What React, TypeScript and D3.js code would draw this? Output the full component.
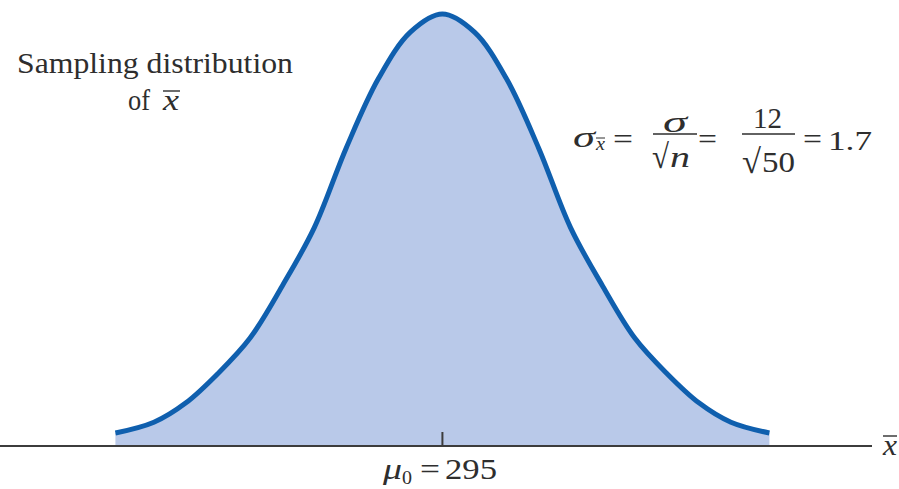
import React from 'react';
import * as d3 from 'd3';

// sample mean values along the curve, and relative density
const xbarValues = [289.9, 290.5, 291, 291.5, 292, 292.5, 293, 293.5, 294, 294.5, 295,
  295.5, 296, 296.5, 297, 297.5, 298, 298.5, 299, 299.5, 300.1];
const densities = [0.03, 0.055, 0.1, 0.168, 0.25, 0.37, 0.505, 0.69, 0.85, 0.958, 1,
  0.958, 0.85, 0.69, 0.505, 0.37, 0.25, 0.168, 0.1, 0.055, 0.03];

const muLabel = 295;
const sigma = 12;
const n = 50;
const stdErr = 1.7;

const W = 899;
const H = 489;
const serif = 'Liberation Serif, Times New Roman, Times, serif';
const ink = '#2e2e2e';

// text stretched to the width it has in the picture
function T({ x, y, w, size = 30, italic = false, children }: any) {
  return (
    <text x={x} y={y} fontSize={size} fontStyle={italic ? 'italic' : 'normal'}
      textLength={w} lengthAdjust="spacingAndGlyphs">{children}</text>
  );
}

export default function App() {
  const xScale = d3.scaleLinear().domain([288.1, 301.7]).range([0, 872]);
  const yScale = d3.scaleLinear().domain([0, 1]).range([446, 14]);

  const pts = xbarValues.map((v, i) => [v, densities[i]] as [number, number]);

  const area = d3.area<[number, number]>()
    .x(d => xScale(d[0]))
    .y0(yScale(0))
    .y1(d => yScale(d[1]))
    .curve(d3.curveCatmullRom.alpha(0.5));

  const line = d3.line<[number, number]>()
    .x(d => xScale(d[0]))
    .y(d => yScale(d[1]))
    .curve(d3.curveCatmullRom.alpha(0.5));

  const cx = xScale(muLabel);

  return (
    <svg width={W} height={H} style={{ position: 'absolute', left: 0, top: 0, background: '#fff' }}>
      <path d={area(pts) || ''} fill="#b9c9e9" />
      <path d={line(pts) || ''} fill="none" stroke="#0f5fae" strokeWidth={5} />

      {/* axis */}
      <line x1={xScale.range()[0]} x2={xScale.range()[1]} y1={yScale(0)} y2={yScale(0)} stroke="#3c3c3c" strokeWidth={2} />
      <line x1={cx} x2={cx} y1={yScale(0)} y2={yScale(0) - 14} stroke="#3c3c3c" strokeWidth={2} />

      <g fontFamily={serif} fill={ink}>
        {/* axis label x-bar */}
        <T x={883} y={455} w={14} size={29} italic>x</T>
        <line x1={883} x2={897} y1={436} y2={436} stroke={ink} strokeWidth={1.4} />

        {/* mu_0 = 295 */}
        <T x={383} y={479} w={19} italic>μ</T>
        <T x={402} y={484} w={10} size={19}>0</T>
        <T x={420} y={479} w={20}>=</T>
        <T x={445} y={479} w={52}>{muLabel}</T>

        {/* title */}
        <T x={17} y={73} w={276}>Sampling distribution</T>
        <T x={128} y={110} w={22}>of</T>
        <T x={163} y={110} w={16} italic>x</T>
        <line x1={163} x2={180} y1={91} y2={91} stroke={ink} strokeWidth={1.4} />

        {/* standard error formula */}
        <T x={573} y={147} w={22} italic>σ</T>
        <T x={596} y={150} w={9} size={18} italic>x</T>
        <line x1={596} x2={605} y1={138} y2={138} stroke={ink} strokeWidth={1} />
        <T x={613} y={149} w={20}>=</T>

        <T x={663} y={132} w={24} italic>σ</T>
        <line x1={653} x2={697} y1={134} y2={134} stroke={ink} strokeWidth={1.6} />
        <T x={652} y={168} w={17} size={34}>√</T>
        <T x={670} y={167} w={20} italic>n</T>
        <T x={698} y={149} w={19}>=</T>

        <T x={753} y={128} w={29}>{sigma}</T>
        <line x1={742} x2={795} y1={134} y2={134} stroke={ink} strokeWidth={1.6} />
        <T x={742} y={173} w={19} size={34}>√</T>
        <T x={762} y={172} w={33}>{n}</T>

        <T x={803} y={149} w={19}>=</T>
        <T x={828} y={150} w={44} size={28}>{stdErr}</T>
      </g>
    </svg>
  );
}
